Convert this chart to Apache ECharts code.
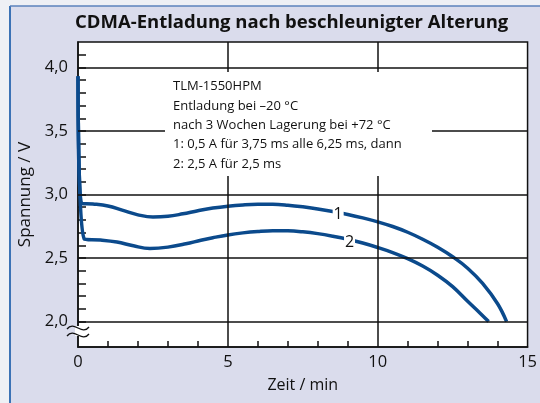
<!DOCTYPE html>
<html><head><meta charset="utf-8">
<script src="https://cdn.jsdelivr.net/npm/echarts@6/dist/echarts.min.js"></script>
<style>html,body{margin:0;padding:0;background:#eef0f5}#c{width:540px;height:403px}</style>
</head><body><div id="c"></div>
<script>
const titleText = 'CDMA-Entladung nach beschleunigter Alterung';
const xName = 'Zeit / min';
const yName = 'Spannung / V';
const yLabelValues = [2.0, 2.5, 3.0, 3.5, 4.0];
const yTickValues = [2.0,2.1,2.2,2.3,2.4,2.5,2.6,2.7,2.8,2.9,3.0,3.1,3.2,3.3,3.4,3.5,3.6,3.7,3.8,3.9,4.0,4.1];
const xGridValues = [5, 10];
const noteLines = ['TLM-1550HPM','Entladung bei \u201320 °C','nach 3 Wochen Lagerung bei +72 °C','1: 0,5 A für 3,75 ms alle 6,25 ms, dann','2: 2,5 A für 2,5 ms'];

const t1 = [0, 0.12, 0.5, 1.0, 1.5, 2.0, 2.5, 3.0, 3.5, 4.0, 4.5, 5.0, 5.5, 6.0, 6.5, 7.0, 7.5, 8.0, 8.5, 9.0, 9.5, 10.0, 10.5, 11.0, 11.5, 12.0, 12.5, 13.0, 13.5, 14.0, 14.3];
const v1 = [3.93, 2.93, 2.925, 2.91, 2.875, 2.84, 2.822, 2.828, 2.848, 2.872, 2.893, 2.908, 2.918, 2.923, 2.923, 2.916, 2.903, 2.886, 2.866, 2.843, 2.816, 2.785, 2.748, 2.703, 2.648, 2.585, 2.51, 2.42, 2.3, 2.14, 2.0];
const t2 = [0, 0.21, 0.75, 1.3, 1.85, 2.4, 3.0, 3.6, 4.1, 4.5, 5.0, 5.5, 6.0, 6.5, 7.0, 7.5, 8.0, 8.5, 9.0, 9.5, 10.0, 10.5, 11.0, 11.5, 12.0, 12.5, 13.0, 13.4, 13.7];
const v2 = [3.93, 2.65, 2.642, 2.626, 2.596, 2.576, 2.586, 2.612, 2.64, 2.66, 2.682, 2.698, 2.709, 2.715, 2.714, 2.706, 2.692, 2.672, 2.648, 2.618, 2.583, 2.543, 2.495, 2.437, 2.365, 2.275, 2.16, 2.07, 2.0];
const label1 = {name: '1', t: 8.68, v: 2.845};
const label2 = {name: '2', t: 9.06, v: 2.625};

const FONT = 'Open Sans';
const LINE = '#0b4a8c';
const chart = echarts.init(document.getElementById('c'), null, {renderer: 'canvas'});
const zip = (a, b) => a.map((x, i) => [x, b[i]]);
const gridLines = yLabelValues.map(v => ({yAxis: v})).concat(xGridValues.map(v => ({xAxis: v})));

chart.setOption({
  backgroundColor: '#eef0f5',
  animation: false,
  title: {text: titleText, left: 75, top: 13, padding: 0, textStyle: {fontFamily: FONT, fontWeight: 'bold', fontSize: 18.5, color: '#111'}},
  grid: {left: 78, top: 42, right: 12, bottom: 56, show: true, backgroundColor: '#fff', borderColor: '#111', borderWidth: 1.5},
  xAxis: {
    type: 'value', min: 0, max: 15, interval: 5,
    name: xName, nameLocation: 'middle', nameGap: 30,
    nameTextStyle: {fontFamily: FONT, fontSize: 16, color: '#111'},
    axisLine: {lineStyle: {color: '#111', width: 1.5}},
    axisTick: {show: false, inside: true},
    minorTick: {show: true, splitNumber: 5, length: 6, lineStyle: {color: '#111', width: 1.5}},
    axisLabel: {fontFamily: FONT, fontSize: 16.5, color: '#111', margin: 7},
    splitLine: {show: false}
  },
  yAxis: {
    type: 'value', min: 1.8, max: 4.2,
    name: yName, nameLocation: 'middle', nameGap: 40,
    nameTextStyle: {fontFamily: FONT, fontSize: 17, color: '#111'},
    axisLine: {lineStyle: {color: '#111', width: 1.5}},
    axisTick: {show: true, inside: true, length: 8, customValues: yTickValues, lineStyle: {color: '#111', width: 1.5}},
    axisLabel: {fontFamily: FONT, fontSize: 16.5, color: '#111', margin: 10, customValues: yLabelValues,
      formatter: v => v.toFixed(1).replace('.', ',')},
    splitLine: {show: false}
  },
  series: [
    {type: 'line', data: [], silent: true,
     markLine: {silent: true, symbol: 'none', label: {show: false}, lineStyle: {color: '#111', width: 1.5, type: 'solid'}, data: gridLines}},
    {type: 'line', data: zip(t1, v1), showSymbol: false, smooth: 0.4, lineStyle: {color: LINE, width: 3.5}, z: 3,
     markPoint: {symbol: 'rect', symbolSize: [11, 17], itemStyle: {color: '#fff'},
       label: {show: true, position: 'inside', formatter: '{b}', fontFamily: FONT, fontSize: 16, color: '#111'},
       data: [{name: label1.name, coord: [label1.t, label1.v]}]}},
    {type: 'line', data: zip(t2, v2), showSymbol: false, smooth: 0.4, lineStyle: {color: LINE, width: 3.5}, z: 3,
     markPoint: {symbol: 'rect', symbolSize: [11, 17], itemStyle: {color: '#fff'},
       label: {show: true, position: 'inside', formatter: '{b}', fontFamily: FONT, fontSize: 16, color: '#111'},
       data: [{name: label2.name, coord: [label2.t, label2.v]}]}}
  ],
  graphic: [
    {type: 'rect', z: -10, silent: true, shape: {x: 10, y: 6, width: 540, height: 410}, style: {fill: '#dadcec'}},
    {type: 'line', z: -9, silent: true, shape: {x1: 10, y1: 6, x2: 10, y2: 403}, style: {stroke: '#3b72b5', lineWidth: 2}},
    {type: 'line', z: -9, silent: true, shape: {x1: 10, y1: 6, x2: 540, y2: 6}, style: {stroke: '#5b83bd', lineWidth: 1.5}},
    {type: 'rect', z: 20, silent: true, shape: {x: 165, y: 72, width: 267, height: 104}, style: {fill: '#fff'}},
    {type: 'text', z: 21, silent: true, left: 173, top: 77, style: {text: noteLines.join('\n'), font: '13px "' + FONT + '"', lineHeight: 19.3, fill: '#111'}},
    {type: 'rect', z: 20, silent: true, shape: {x: 75, y: 326, width: 7, height: 10}, style: {fill: '#fff'}},
    {type: 'bezierCurve', z: 21, silent: true, shape: {x1: 67, y1: 329, x2: 89, y2: 327, cpx1: 74, cpy1: 320, cpx2: 82, cpy2: 336}, style: {stroke: '#111', lineWidth: 1.3, fill: null}},
    {type: 'bezierCurve', z: 21, silent: true, shape: {x1: 67, y1: 336, x2: 89, y2: 334, cpx1: 74, cpy1: 327, cpx2: 82, cpy2: 343}, style: {stroke: '#111', lineWidth: 1.3, fill: null}}
  ]
});
</script></body></html>
